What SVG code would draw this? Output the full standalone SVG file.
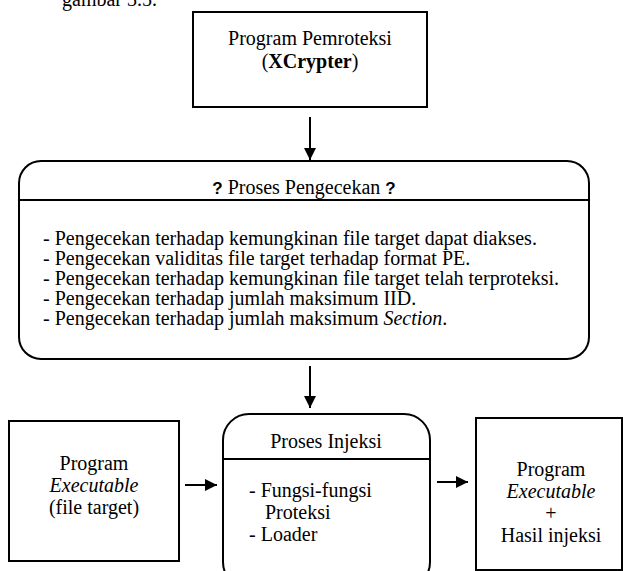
<svg xmlns="http://www.w3.org/2000/svg" width="623" height="571" viewBox="0 0 623 571">
<defs>
<style>
text{font-family:"Liberation Serif","Times New Roman","DejaVu Serif",serif;font-size:20px;fill:#000}
.c{text-anchor:middle}
.box{fill:#fff;stroke:#000;stroke-width:2}
.ln{stroke:#000;stroke-width:2;fill:none}
.q{font-family:"Liberation Sans","DejaVu Sans",sans-serif;font-weight:bold;font-size:17px}
</style>
<marker id="ah" viewBox="0 0 10 10" refX="10" refY="5" markerWidth="6" markerHeight="6" markerUnits="strokeWidth" orient="auto">
<path d="M0,0 L10,5 L0,10 Z" fill="#000"/>
</marker>
</defs>
<rect width="623" height="571" fill="#fff"/>
<text x="62" y="6">gambar 3.5.</text>

<g id="pemroteksi">
<rect class="box" x="193" y="12" width="234" height="95"/>
<text class="c" x="310" y="45">Program Pemroteksi</text>
<text class="c" x="310" y="68">(<tspan font-weight="bold">XCrypter</tspan>)</text>
</g>

<g id="pengecekan">
<rect class="box" x="19" y="161" width="570" height="198" rx="22" ry="22"/>
<line class="ln" x1="19" y1="200" x2="589" y2="200"/>
<text class="c" x="304" y="194"><tspan class="q">?</tspan> Proses Pengecekan <tspan class="q">?</tspan></text>
<text x="43" y="245">- Pengecekan terhadap kemungkinan file target dapat diakses.</text>
<text x="43" y="265">- Pengecekan validitas file target terhadap format PE.</text>
<text x="43" y="285">- Pengecekan terhadap kemungkinan file target telah terproteksi.</text>
<text x="43" y="305">- Pengecekan terhadap jumlah maksimum IID.</text>
<text x="43" y="325">- Pengecekan terhadap jumlah maksimum <tspan font-style="italic">Section</tspan>.</text>
</g>

<g id="executable">
<rect class="box" x="9" y="421" width="170" height="140"/>
<text class="c" x="94" y="470">Program</text>
<text class="c" x="94" y="492" font-style="italic">Executable</text>
<text class="c" x="94" y="514">(file target)</text>
</g>

<g id="injeksi">
<rect class="box" x="223" y="414" width="207" height="174" rx="26" ry="26"/>
<line class="ln" x1="223" y1="459" x2="430" y2="459"/>
<text class="c" x="326" y="448">Proses Injeksi</text>
<text x="249" y="497">- Fungsi-fungsi</text>
<text x="265" y="519">Proteksi</text>
<text x="249" y="541">- Loader</text>
</g>

<g id="hasil">
<rect class="box" x="476" y="418" width="146" height="152"/>
<text class="c" x="551" y="476">Program</text>
<text class="c" x="551" y="498" font-style="italic">Executable</text>
<text class="c" x="551" y="520">+</text>
<text class="c" x="551" y="542">Hasil injeksi</text>
</g>

<g id="connectors">
<line class="ln" x1="310" y1="117" x2="310" y2="160" marker-end="url(#ah)"/>
<line class="ln" x1="310" y1="366" x2="310" y2="408" marker-end="url(#ah)"/>
<line class="ln" x1="185" y1="485" x2="217" y2="485" marker-end="url(#ah)"/>
<line class="ln" x1="437" y1="482" x2="468" y2="482" marker-end="url(#ah)"/>
</g>
</svg>
